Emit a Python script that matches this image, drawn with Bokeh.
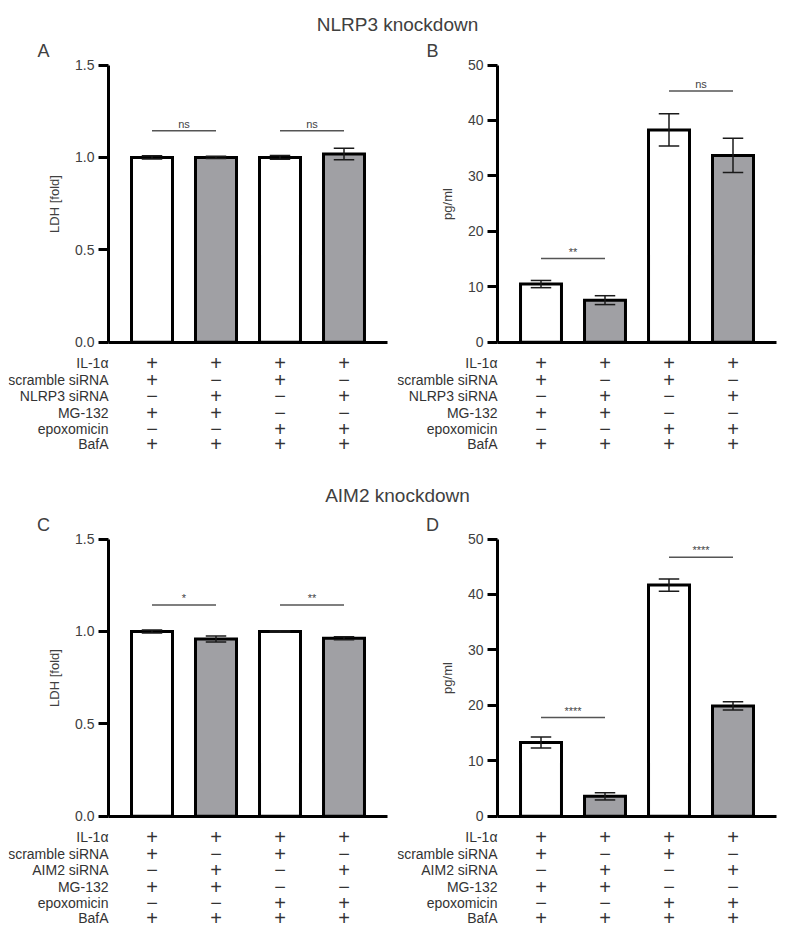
from bokeh.plotting import figure
from bokeh.models import LinearAxis, FixedTicker, Range1d, PrintfTickFormatter
from bokeh.layouts import column, row
from bokeh.embed import file_html
from bokeh.resources import INLINE
from bokeh.core.properties import value

# ---------------- data ----------------
groups = [1, 2, 3, 4]
bar_fills = ["white", "#a0a0a4", "white", "#a0a0a4"]

cond_nlrp3 = ["IL-1α", "scramble siRNA", "NLRP3 siRNA", "MG-132", "epoxomicin", "BafA"]
cond_aim2 = ["IL-1α", "scramble siRNA", "AIM2 siRNA", "MG-132", "epoxomicin", "BafA"]
cond_signs = [
    ["+", "+", "+", "+"],
    ["+", "−", "+", "−"],
    ["−", "+", "−", "+"],
    ["+", "+", "−", "−"],
    ["−", "−", "+", "+"],
    ["+", "+", "+", "+"],
]

ldh_nlrp3 = [1.0, 1.0, 1.0, 1.018]
ldh_nlrp3_err = [0.009, 0.006, 0.01, 0.031]
il1a_nlrp3 = [10.5, 7.6, 38.3, 33.7]
il1a_nlrp3_err = [0.65, 0.8, 2.9, 3.1]

ldh_aim2 = [1.0, 0.959, 1.0, 0.963]
ldh_aim2_err = [0.008, 0.016, 0.004, 0.008]
il1a_aim2 = [13.3, 3.6, 41.7, 19.9]
il1a_aim2_err = [1.0, 0.65, 1.1, 0.75]

# significance brackets: (from group, to group, height, label)
sig_a = [(1, 2, 1.144, "ns"), (3, 4, 1.144, "ns")]
sig_b = [(1, 2, 15.1, "**"), (3, 4, 45.3, "ns")]
sig_c = [(1, 2, 1.143, "*"), (3, 4, 1.143, "**")]
sig_d = [(1, 2, 17.8, "****"), (3, 4, 46.7, "****")]

FONT = "Liberation Sans"
TXT = "#333333"

W = 389


def panel(letter, vals, errs, ymax, yticks, fmt, ylabel, cond_labels, sigs, height):
    sx = 64.0                  # px per group unit
    axis_px = 100.0            # y-axis position (px from left)
    bar1_px = 143.5            # centre of first bar (px from left)
    x0 = 1 - bar1_px / sx
    x1 = x0 + W / sx
    axis_x = x0 + axis_px / sx
    right_x = x0 + 379.0 / sx
    top_px, zero_px = 26.5, 303.8
    sy = (zero_px - top_px) / ymax
    y1 = ymax + top_px / sy
    y0 = -(height - zero_px) / sy

    def px_x(px):
        return x0 + px / sx

    def px_y(py):
        return y1 - py / sy

    p = figure(width=W, height=height, x_range=Range1d(x0, x1), y_range=Range1d(y0, y1),
               output_backend="svg", toolbar_location=None, min_border=0,
               x_axis_type=None, y_axis_type=None)
    p.outline_line_color = None
    p.background_fill_color = "white"
    p.border_fill_color = "white"

    # bars
    p.vbar(x=groups, top=vals, width=0.64, bottom=0, fill_color=bar_fills,
           line_color="black", line_width=3, line_join="miter")

    # error bars
    lo = [v - e for v, e in zip(vals, errs)]
    hi = [v + e for v, e in zip(vals, errs)]
    cw = 0.16
    p.segment(x0=groups, y0=lo, x1=groups, y1=hi, line_color="#1a1a1a", line_width=1.5)
    p.segment(x0=[g - cw for g in groups], y0=hi, x1=[g + cw for g in groups], y1=hi,
              line_color="#1a1a1a", line_width=1.5)
    p.segment(x0=[g - cw for g in groups], y0=lo, x1=[g + cw for g in groups], y1=lo,
              line_color="#1a1a1a", line_width=1.5)

    # axes
    yax = LinearAxis(fixed_location=axis_x, bounds=(0, ymax), ticker=FixedTicker(ticks=yticks),
                     formatter=PrintfTickFormatter(format=fmt), axis_label=ylabel)
    yax.axis_line_width = 3
    yax.axis_line_color = "black"
    yax.major_tick_line_width = 3
    yax.major_tick_line_color = "black"
    yax.major_tick_out = 10
    yax.major_tick_in = 0
    yax.minor_tick_line_color = None
    yax.major_label_text_font = FONT
    yax.major_label_text_font_size = "14px"
    yax.major_label_text_color = "#404040"
    yax.major_label_standoff = 4
    yax.axis_label_text_font = FONT
    yax.axis_label_text_font_size = "13px"
    yax.axis_label_text_font_style = "normal"
    yax.axis_label_text_color = "#404040"
    yax.axis_label_standoff = 10
    p.add_layout(yax, "left")

    xax = LinearAxis(fixed_location=0, bounds=(axis_x, right_x), ticker=FixedTicker(ticks=[]))
    xax.axis_line_width = 3
    xax.axis_line_color = "black"
    xax.major_tick_line_color = None
    xax.minor_tick_line_color = None
    xax.major_label_text_color = None
    p.add_layout(xax, "below")

    # significance
    for g1, g2, h, lab in sigs:
        p.segment(x0=[g1], y0=[h], x1=[g2], y1=[h], line_color="#555555", line_width=1.5)
        p.text(x=[(g1 + g2) / 2], y=[h + 1.0 / sy], text=[lab], text_align="center",
               text_baseline="bottom", text_font=value(FONT), text_font_size="11px",
               text_color="#444444")

    # condition table
    row_off = [20.3, 38.0, 54.0, 70.5, 86.5, 102.0]
    ys = [-o / sy for o in row_off]
    p.text(x=[axis_x] * len(cond_labels), y=ys, text=cond_labels, text_align="right",
           text_baseline="middle", text_font=value(FONT), text_font_size="14px",
           text_color=TXT)
    for yv, signs in zip(ys, cond_signs):
        p.text(x=groups, y=[yv] * 4, text=signs, text_align="center", text_baseline="middle",
               text_font=value(FONT), text_font_size="20px", text_color=TXT)

    # panel letter
    p.text(x=[px_x(35)], y=[px_y(12)], text=[letter], text_align="center",
           text_baseline="middle", text_font=value(FONT), text_font_size="18px",
           text_color="#404040")
    return p


def title_fig(txt, ty):
    t = figure(width=2 * W, height=30, x_range=Range1d(0, 2 * W), y_range=Range1d(0, 30),
               output_backend="svg", toolbar_location=None, min_border=0,
               x_axis_type=None, y_axis_type=None)
    t.outline_line_color = None
    t.text(x=[W], y=[30 - ty], text=[txt], text_align="center", text_baseline="middle",
           text_font=value(FONT), text_font_size="19px", text_color="#404040")
    return t


H1, H2 = 444, 425
pA = panel("A", ldh_nlrp3, ldh_nlrp3_err, 1.5, [0, 0.5, 1.0, 1.5], "%.1f", "LDH [fold]",
           cond_nlrp3, sig_a, H1)
pB = panel("B", il1a_nlrp3, il1a_nlrp3_err, 50, [0, 10, 20, 30, 40, 50], "%d", "pg/ml",
           cond_nlrp3, sig_b, H1)
pC = panel("C", ldh_aim2, ldh_aim2_err, 1.5, [0, 0.5, 1.0, 1.5], "%.1f", "LDH [fold]",
           cond_aim2, sig_c, H2)
pD = panel("D", il1a_aim2, il1a_aim2_err, 50, [0, 10, 20, 30, 40, 50], "%d", "pg/ml",
           cond_aim2, sig_d, H2)

t1 = title_fig("NLRP3 knockdown", 16)
t2 = title_fig("AIM2 knockdown", 13)

layout = column(t1, row(pA, pB, spacing=0), t2, row(pC, pD, spacing=0), spacing=0,
                margin=(8, 0, 0, 8))

open("out.html", "w").write(file_html(layout, INLINE))
